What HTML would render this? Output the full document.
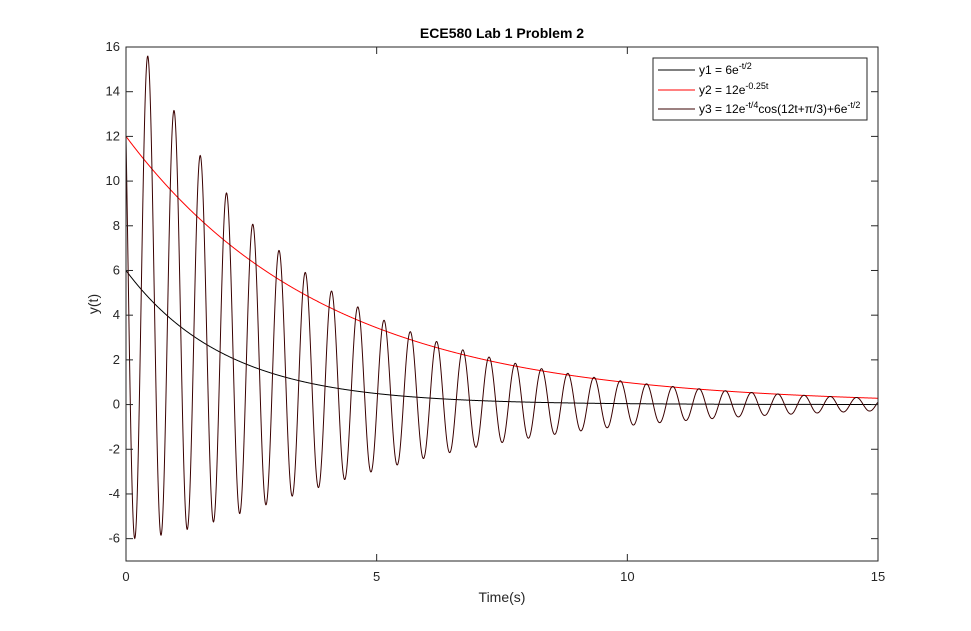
<!DOCTYPE html>
<html><head><meta charset="utf-8"><style>
body{margin:0;background:#fff;}
svg{display:block;font-family:"Liberation Sans",Arial,sans-serif;}
</style></head><body>
<svg id="chart" width="971" height="631" viewBox="0 0 971 631">
<rect width="971" height="631" fill="#fff"/>
<g id="plot"></g>
<g id="axes"></g>
</svg>
<script>
const xTicks=[0,5,10,15];
const yTicks=[-6,-4,-2,0,2,4,6,8,10,12,14,16];
const xRange=[0,15];
const yRange=[-7,16];
// series parameters: y1 = A1 e^{-k1 t}, y2 = A2 e^{-k2 t}, y3 = A3 e^{-k3 t} cos(w t + phi) + y1
const y1Params=[6,0.5];
const y2Params=[12,0.25];
const y3Params=[12,0.25,12,Math.PI/3];
const L=126,R=878,T=47,B=561;
const sx=v=>L+(v-xRange[0])/(xRange[1]-xRange[0])*(R-L);
const sy=v=>B-(v-yRange[0])/(yRange[1]-yRange[0])*(B-T);
const NS="http://www.w3.org/2000/svg";
const plot=document.getElementById('plot'),axes=document.getElementById('axes');
function mk(tag,attrs,parent){const e=document.createElementNS(NS,tag);for(const k in attrs)e.setAttribute(k,attrs[k]);parent.appendChild(e);return e;}
const f1=t=>y1Params[0]*Math.exp(-y1Params[1]*t);
const f2=t=>y2Params[0]*Math.exp(-y2Params[1]*t);
const f3=t=>y3Params[0]*Math.exp(-y3Params[1]*t)*Math.cos(y3Params[2]*t+y3Params[3])+f1(t);
function path(f,color,name){let d='';const n=3000;for(let i=0;i<=n;i++){const t=xRange[0]+(xRange[1]-xRange[0])*i/n;d+=(i?'L':'M')+sx(t).toFixed(2)+','+sy(f(t)).toFixed(2);}
const p=mk('path',{d:d,fill:'none',stroke:color,'stroke-width':1},plot);

}
path(f1,'#000','series-y1');
path(f2,'#ff0000','series-y2');
path(f3,'#3a0000','series-y3');
const box=mk('rect',{x:L,y:T,width:R-L,height:B-T,fill:'none',stroke:'#262626','stroke-width':1},axes);


xTicks.forEach(v=>{const x=sx(v);
mk('line',{x1:x,x2:x,y1:B,y2:B-7,stroke:'#262626'},axes);mk('line',{x1:x,x2:x,y1:T,y2:T+7,stroke:'#262626'},axes);
const t=mk('text',{x:x,y:B+20,'text-anchor':'middle','font-size':13,fill:'#262626'},axes);t.textContent=v;

});
yTicks.forEach(v=>{const y=sy(v);
mk('line',{x1:L,x2:L+7,y1:y,y2:y,stroke:'#262626'},axes);mk('line',{x1:R,x2:R-7,y1:y,y2:y,stroke:'#262626'},axes);
const t=mk('text',{x:L-6,y:y+4,'text-anchor':'end','font-size':13,fill:'#262626'},axes);t.textContent=v;

});
</script>
<svg style="position:absolute;left:0;top:0" width="971" height="631">
<text x="502" y="38" text-anchor="middle" font-size="14" font-weight="bold" fill="#000" font-family="Liberation Sans, sans-serif">ECE580 Lab 1 Problem 2</text>
<text x="502" y="602" text-anchor="middle" font-size="14" fill="#262626" font-family="Liberation Sans, sans-serif">Time(s)</text>
<text x="98" y="304" text-anchor="middle" font-size="14" fill="#262626" font-family="Liberation Sans, sans-serif" transform="rotate(-90 98 304)">y(t)</text>
<g font-family="Liberation Sans, sans-serif" font-size="12" fill="#000">
<rect x="653" y="58" width="214" height="62" fill="#fff" stroke="#262626"/>
<line x1="658" x2="695" y1="70" y2="70" stroke="#000"/>
<text x="699" y="74">y1 = 6e<tspan dy="-5" font-size="9">-t/2</tspan></text>
<line x1="658" x2="695" y1="90" y2="90" stroke="#ff0000"/>
<text x="699" y="94">y2 = 12e<tspan dy="-5" font-size="9">-0.25t</tspan></text>
<line x1="658" x2="695" y1="109" y2="109" stroke="#3a0000"/>
<text x="699" y="113">y3 = 12e<tspan dy="-5" font-size="9">-t/4</tspan><tspan dy="5">cos(12t+π/3)+6e</tspan><tspan dy="-5" font-size="9">-t/2</tspan></text>
</g>
</svg>
</body></html>
